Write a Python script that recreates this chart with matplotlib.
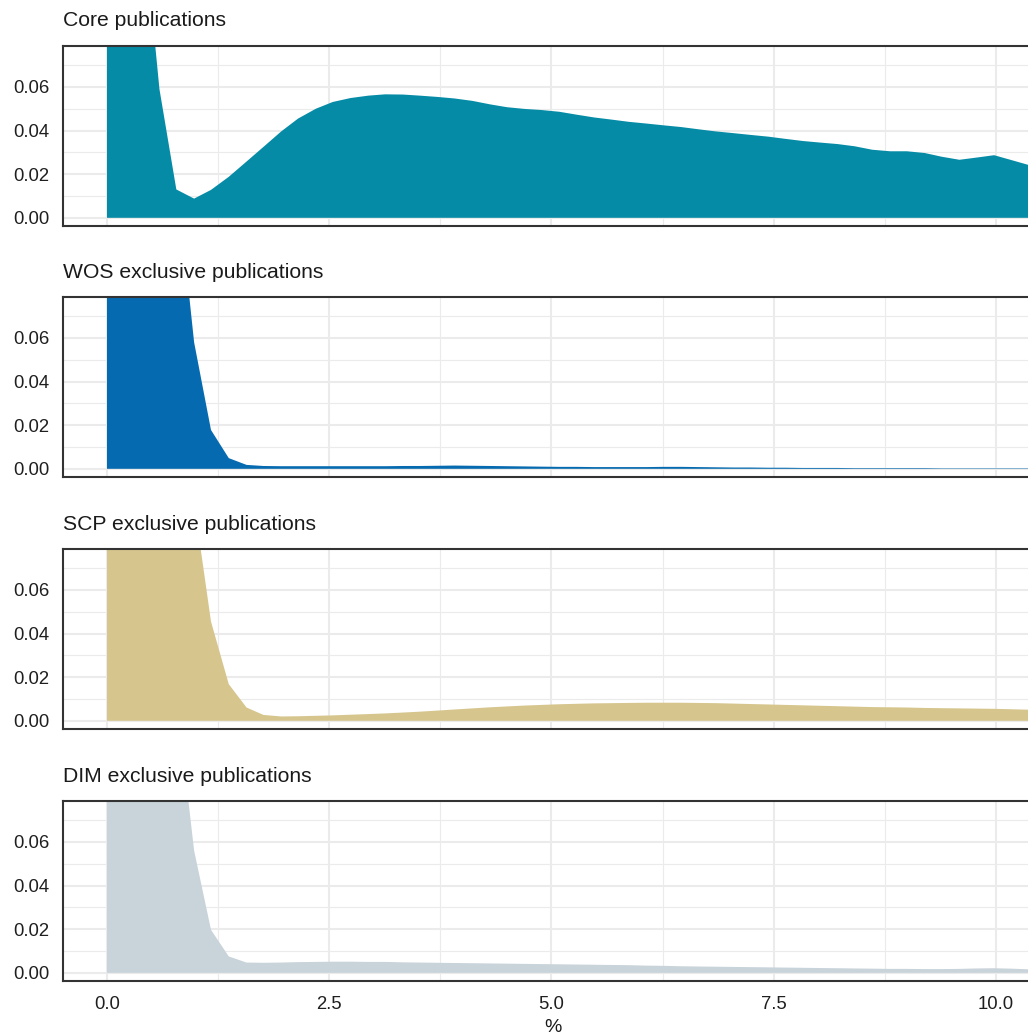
import matplotlib
matplotlib.use("Agg")
import matplotlib.pyplot as plt

plt.rcParams["font.family"] = ["Liberation Sans", "DejaVu Sans"]

# Density estimates evaluated on a regular grid of percentage values
pct = [0.00, 0.20, 0.39, 0.59, 0.78, 0.98, 1.17, 1.37, 1.57, 1.76,
       1.96, 2.15, 2.35, 2.54, 2.74, 2.94, 3.13, 3.33, 3.52, 3.72,
       3.91, 4.11, 4.31, 4.50, 4.70, 4.89, 5.09, 5.28, 5.48, 5.68,
       5.87, 6.07, 6.26, 6.46, 6.65, 6.85, 7.05, 7.24, 7.44, 7.63,
       7.83, 8.02, 8.22, 8.41, 8.61, 8.81, 9.00, 9.20, 9.39, 9.59,
       9.78, 9.98, 10.18, 10.37, 10.57]

core = [0.600, 0.420, 0.143, 0.059, 0.0130, 0.0088, 0.0128, 0.0188, 0.0258, 0.0325,
        0.0396, 0.0455, 0.0500, 0.0531, 0.0549, 0.0560, 0.0566, 0.0565, 0.0560, 0.0554,
        0.0547, 0.0536, 0.0520, 0.0507, 0.0499, 0.0494, 0.0486, 0.0473, 0.0460, 0.0450,
        0.0440, 0.0432, 0.0424, 0.0416, 0.0406, 0.0396, 0.0388, 0.0380, 0.0372, 0.0362,
        0.0352, 0.0345, 0.0338, 0.0328, 0.0312, 0.0305, 0.0305, 0.0297, 0.0280, 0.0266,
        0.0276, 0.0287, 0.0264, 0.0242, 0.0220]

wos = [1.200, 0.900, 0.600, 0.350, 0.135, 0.058, 0.0178, 0.0049, 0.0018, 0.0013,
       0.0012, 0.0012, 0.0012, 0.0012, 0.0012, 0.0012, 0.0012, 0.0013, 0.0013, 0.0014,
       0.0015, 0.0014, 0.0013, 0.0012, 0.0011, 0.0010, 0.0009, 0.0009, 0.0008, 0.0008,
       0.0008, 0.0008, 0.0009, 0.0009, 0.0008, 0.0007, 0.0006, 0.0006, 0.0005, 0.0005,
       0.0004, 0.0004, 0.0004, 0.0003, 0.0003, 0.0003, 0.0003, 0.0003, 0.0002, 0.0002,
       0.0002, 0.0002, 0.0002, 0.0002, 0.0002]

scp = [1.100, 0.800, 0.550, 0.330, 0.180, 0.100, 0.0455, 0.0168, 0.0061, 0.0027,
       0.0020, 0.0021, 0.0023, 0.0025, 0.0028, 0.0031, 0.0034, 0.0038, 0.0042, 0.0047,
       0.0052, 0.0057, 0.0062, 0.0066, 0.0070, 0.0073, 0.0076, 0.0078, 0.0080, 0.0081,
       0.0082, 0.0083, 0.0083, 0.0083, 0.0082, 0.0081, 0.0079, 0.0077, 0.0075, 0.0073,
       0.0071, 0.0069, 0.0067, 0.0065, 0.0063, 0.0062, 0.0061, 0.0059, 0.0058, 0.0057,
       0.0056, 0.0055, 0.0053, 0.0051, 0.0050]

dim = [1.150, 0.850, 0.580, 0.340, 0.127, 0.056, 0.0197, 0.0075, 0.0047, 0.0046,
       0.0047, 0.0049, 0.0050, 0.0051, 0.0051, 0.0050, 0.0050, 0.0048, 0.0047, 0.0046,
       0.0045, 0.0044, 0.0043, 0.0042, 0.0041, 0.0040, 0.0039, 0.0038, 0.0037, 0.0036,
       0.0035, 0.0033, 0.0032, 0.0030, 0.0029, 0.0028, 0.0027, 0.0026, 0.0025, 0.0024,
       0.0023, 0.0022, 0.0021, 0.0020, 0.0019, 0.0018, 0.0018, 0.0017, 0.0017, 0.0018,
       0.0020, 0.0021, 0.0019, 0.0016, 0.0014]

panel_titles = ["Core publications", "WOS exclusive publications",
                "SCP exclusive publications", "DIM exclusive publications"]
series = [core, wos, scp, dim]
fills = ["#058BA6", "#066AB0", "#D6C68E", "#C8D3DA"]

x_major = [0.0, 2.5, 5.0, 7.5, 10.0]
x_labels = ["0.0", "2.5", "5.0", "7.5", "10.0"]
x_minor = [1.25, 3.75, 6.25, 8.75]
y_major = [0.00, 0.02, 0.04, 0.06]
y_labels = ["0.00", "0.02", "0.04", "0.06"]
y_minor = [0.01, 0.03, 0.05, 0.07]

W, H = 1028, 1034
fig = plt.figure(figsize=(W / 100, H / 100), dpi=100)

panel_tops = [46, 297, 549, 801]
panel_h = 180
left_px, right_px = 63, 1043

for i, (vals, col, title, top) in enumerate(zip(series, fills, panel_titles, panel_tops)):
    ax = fig.add_axes([left_px / W, 1 - (top + panel_h) / H,
                       (right_px - left_px) / W, panel_h / H])
    ax.set_axisbelow(True)
    ax.fill_between(pct, 0, vals, color=col, lw=0, zorder=2)
    ax.set_xlim(-0.495, 10.53)
    ax.set_ylim(-0.00375, 0.07875)

    ax.set_xticks(x_major)
    ax.set_xticks(x_minor, minor=True)
    ax.set_yticks(y_major)
    ax.set_yticks(y_minor, minor=True)
    ax.set_yticklabels(y_labels)
    if i == 3:
        ax.set_xticklabels(x_labels)
        ax.set_xlabel("%", fontsize=14, color="#1A1A1A", labelpad=4)
    else:
        ax.set_xticklabels([])

    ax.grid(which="major", color="#EBEBEB", lw=1.5)
    ax.grid(which="minor", color="#EBEBEB", lw=0.8)
    ax.tick_params(which="both", length=0)
    ax.tick_params(axis="y", labelsize=13.3, labelcolor="#1F1F1F", pad=10)
    ax.tick_params(axis="x", labelsize=13.3, labelcolor="#1F1F1F", pad=11)

    for s in ax.spines.values():
        s.set_color("#333333")
        s.set_linewidth(1.5)

    fig.text(left_px / W, 1 - (top - 19.5) / H, title, fontsize=15.2,
             color="#1A1A1A", ha="left", va="baseline")

fig.savefig("out.png", dpi=100)
